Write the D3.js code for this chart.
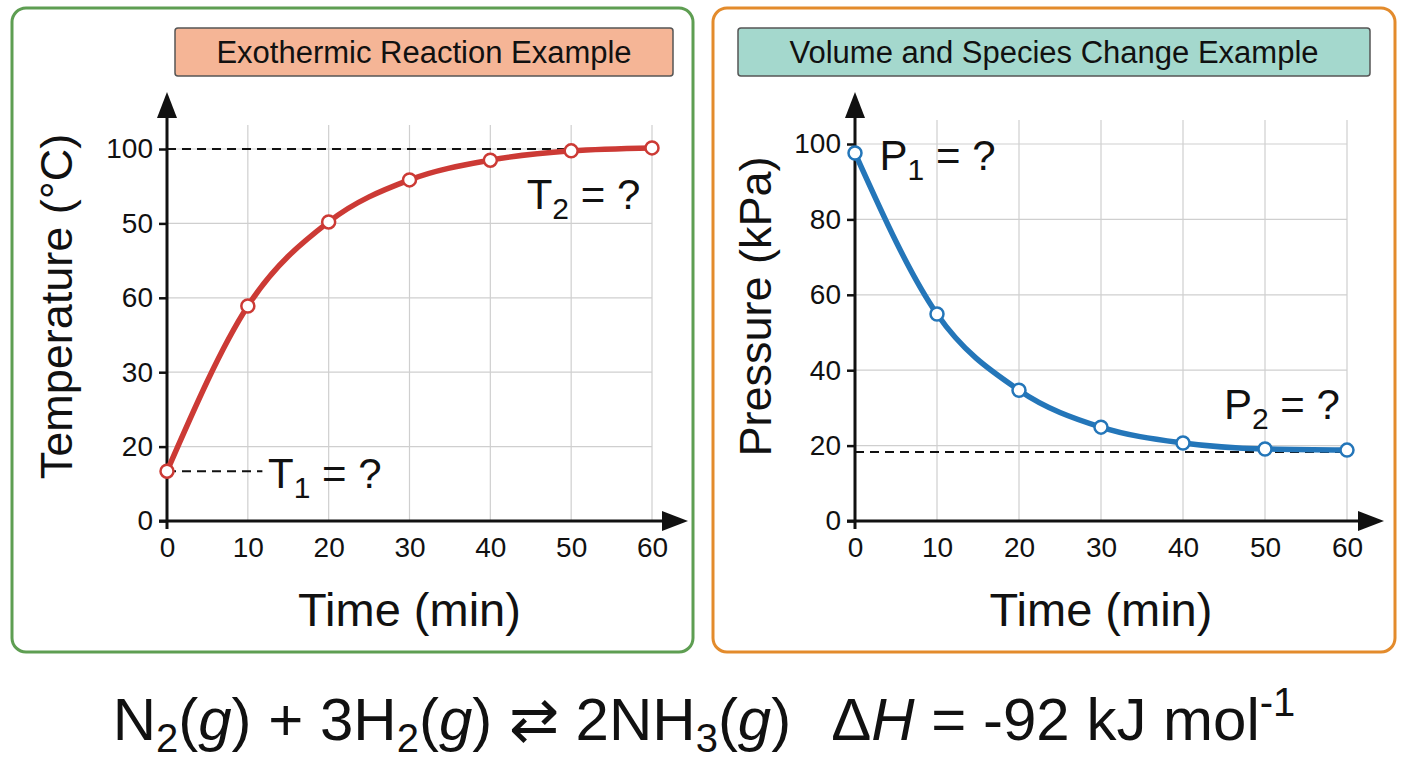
<!DOCTYPE html>
<html lang="en">
<head>
<meta charset="utf-8">
<style>
  body { margin: 0; background: #fff; }
  text { font-family: "Liberation Sans", Arial, sans-serif; fill: #111; }
  .grid line { stroke: #cfcfcf; stroke-width: 1.2px; }
</style>
</head>
<body>
<svg width="1408" height="768"></svg>
<script src="https://cdn.jsdelivr.net/npm/d3@7"></script>
<script>
// shared time axis
var times = [0, 10, 20, 30, 40, 50, 60];

// left panel: temperature (tick labels as printed in the picture)
var tempTickPos = [0, 20, 40, 60, 80, 100];
var tempTickLabels = ["0", "20", "30", "60", "50", "100"];
var tempValues = [13.4, 57.8, 80.4, 91.7, 97, 99.5, 100.3];

// right panel: pressure
var presTicks = [0, 20, 40, 60, 80, 100];
var presValues = [97.6, 54.9, 34.7, 24.9, 20.7, 19.1, 18.8];
var presFinal = 18.3;

var svg = d3.select("svg");

function panel(o) {
  svg.append("rect").attr("x", o.box[0]).attr("y", o.box[1])
    .attr("width", o.box[2]).attr("height", o.box[3]).attr("rx", 14)
    .attr("fill", "#fff").attr("stroke", o.border).attr("stroke-width", 3);
  svg.append("rect").attr("x", o.title[0]).attr("y", o.title[1])
    .attr("width", o.title[2]).attr("height", o.title[3]).attr("rx", 3)
    .attr("fill", o.titleFill).attr("stroke", "#555").attr("stroke-width", 1.5);
  svg.append("text").attr("x", o.title[0] + o.title[2] / 2).attr("y", o.title[1] + o.title[3] / 2 + 11)
    .attr("text-anchor", "middle").style("font-size", "31px").text(o.titleText);

  var x = d3.scaleLinear().domain([0, 60]).range(o.xr);
  var y = d3.scaleLinear().domain([0, 100]).range(o.yr);
  var g = svg.append("g");

  var grid = g.append("g").attr("class", "grid");
  grid.selectAll(".v").data(times.slice(1)).enter().append("line")
    .attr("x1", x).attr("x2", x).attr("y1", o.gridTop).attr("y2", y(0));
  grid.selectAll(".h").data(o.yTicks.slice(1)).enter().append("line")
    .attr("x1", x(0)).attr("x2", x(60)).attr("y1", y).attr("y2", y);

  var xa = g.append("g").attr("transform", "translate(0," + y(0) + ")")
    .call(d3.axisBottom(x).tickValues(times).tickSize(0).tickPadding(16));
  xa.select(".domain").remove();
  xa.selectAll("text").style("font-size", "28px").attr("fill", "#111");
  var ya = g.append("g").attr("transform", "translate(" + x(0) + ",0)")
    .call(d3.axisLeft(y).tickValues(o.yTicks).tickSize(8).tickPadding(6)
      .tickFormat(function (d, i) { return o.yLabels[i]; }));
  ya.select(".domain").remove();
  ya.selectAll("line").attr("stroke", "#111").attr("stroke-width", 2.5);
  ya.selectAll("text").style("font-size", "28px").attr("fill", "#111");

  // arrow axes
  g.append("line").attr("x1", x(0)).attr("x2", x(0)).attr("y1", y(0) + 8).attr("y2", o.yTop + 20)
    .attr("stroke", "#111").attr("stroke-width", 3);
  g.append("path").attr("d", "M" + x(0) + "," + o.yTop + "l-10,26h20z").attr("fill", "#111");
  g.append("line").attr("x1", x(0) - 8).attr("x2", o.xEnd - 20).attr("y1", y(0)).attr("y2", y(0))
    .attr("stroke", "#111").attr("stroke-width", 3);
  g.append("path").attr("d", "M" + o.xEnd + "," + y(0) + "l-26,-10v20z").attr("fill", "#111");

  g.append("text").attr("x", (x(0) + x(60)) / 2).attr("y", y(0) + 105)
    .attr("text-anchor", "middle").style("font-size", "47px").text("Time (min)");
  g.append("text").attr("transform", "translate(" + o.yLabelX + "," + (y(0) + o.yTop) / 2 + ") rotate(-90)")
    .attr("text-anchor", "middle").style("font-size", "45px").text(o.yTitle);

  o.dashes.forEach(function (d) {
    g.append("line").attr("x1", x(d[0])).attr("x2", x(d[1])).attr("y1", y(d[2])).attr("y2", y(d[2]))
      .attr("stroke", "#111").attr("stroke-width", 2).attr("stroke-dasharray", "9,6");
  });

  var pts = times.map(function (t, i) { return [t, o.values[i]]; });
  g.append("path").datum(pts)
    .attr("d", d3.line().x(function (d) { return x(d[0]); }).y(function (d) { return y(d[1]); }).curve(d3.curveMonotoneX))
    .attr("fill", "none").attr("stroke", o.color).attr("stroke-width", 5.5);
  g.selectAll(".pt").data(pts).enter().append("circle")
    .attr("cx", function (d) { return x(d[0]); }).attr("cy", function (d) { return y(d[1]); })
    .attr("r", 6.5).attr("fill", "#fff").attr("stroke", o.color).attr("stroke-width", 2.5);

  o.notes.forEach(function (n) {
    var t = g.append("text").attr("x", x(n[0])).attr("y", y(n[1])).style("font-size", "42px");
    t.append("tspan").text(n[2]);
    t.append("tspan").attr("dy", 10).style("font-size", "30px").text(n[3]);
    t.append("tspan").attr("dy", -10).text(" = ?");
  });
}

panel({
  box: [12, 8, 681, 644], border: "#5e9e52",
  title: [175, 28, 498, 48], titleFill: "#f5b596", titleText: "Exothermic Reaction Example",
  xr: [167, 652], yr: [521, 149], xEnd: 688, yTop: 92, gridTop: 125,
  yTicks: tempTickPos, yLabels: tempTickLabels, values: tempValues,
  yTitle: "Temperature (°C)", yLabelX: 72, color: "#cc3a35",
  dashes: [[0, 60, 100], [0, 11.8, 13.4]],
  notes: [[12.5, 9, "T", "1"], [44.5, 84, "T", "2"]]
});

panel({
  box: [713, 8, 682, 644], border: "#e38b2c",
  title: [738, 28, 632, 48], titleFill: "#a4d8cd", titleText: "Volume and Species Change Example",
  xr: [855, 1347], yr: [521, 144], xEnd: 1384, yTop: 92, gridTop: 120,
  yTicks: presTicks, yLabels: presTicks.map(String), values: presValues,
  yTitle: "Pressure (kPa)", yLabelX: 771, color: "#2476b9",
  dashes: [[0, 60, presFinal]],
  notes: [[3, 93, "P", "1"], [45, 27, "P", "2"]]
});

// equation
var eq = svg.append("text").attr("x", 704).attr("y", 740).attr("text-anchor", "middle")
  .style("font-size", "60px").style("white-space", "pre");
eq.append("tspan").text("N");
eq.append("tspan").attr("dy", 12).style("font-size", "40px").text("2");
eq.append("tspan").attr("dy", -12).text("(");
eq.append("tspan").style("font-style", "italic").text("g");
eq.append("tspan").text(") + 3H");
eq.append("tspan").attr("dy", 12).style("font-size", "40px").text("2");
eq.append("tspan").attr("dy", -12).text("(");
eq.append("tspan").style("font-style", "italic").text("g");
eq.append("tspan").text(") \u21C4 2NH");
eq.append("tspan").attr("dy", 12).style("font-size", "40px").text("3");
eq.append("tspan").attr("dy", -12).text("(");
eq.append("tspan").style("font-style", "italic").text("g");
eq.append("tspan").text(")");
eq.append("tspan").attr("dx", 40).text("\u0394");
eq.append("tspan").style("font-style", "italic").text("H");
eq.append("tspan").text(" = -92 kJ mol");
eq.append("tspan").attr("dy", -24).style("font-size", "40px").text("-1");
</script>
</body>
</html>
